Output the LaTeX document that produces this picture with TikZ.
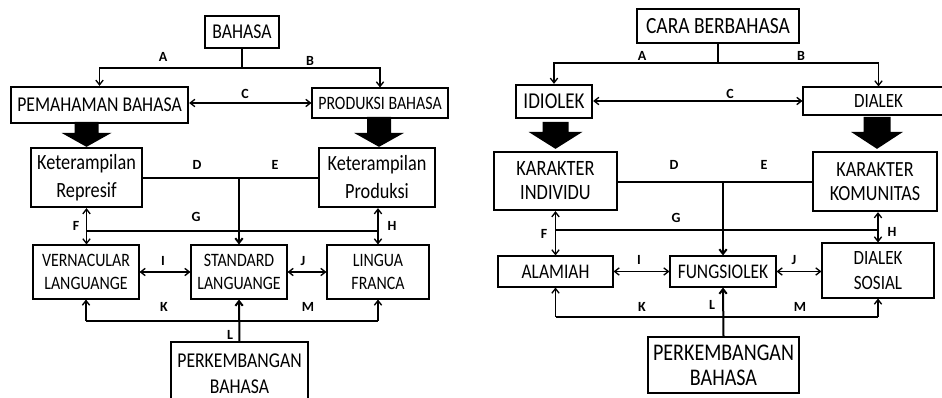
\documentclass[tikz,border=0pt]{standalone}
\usepackage{fontspec}
\setmainfont[FakeStretch=0.84]{Carlito}
\newfontfamily\tagfont{Carlito}
\usetikzlibrary{arrows.meta}
\newcommand\fsz[2]{\fontsize{#1}{#2}\selectfont}
\begin{document}
\begin{tikzpicture}[x=0.75pt,y=-0.75pt,
  box/.style={draw, line width=0.8pt, inner sep=0pt, align=center},
  heavy/.style={box, line width=1.7pt},
  lbl/.style={font=\tagfont\fsz{10.5pt}{11pt}\bfseries, inner sep=0pt},
  link/.style={line width=1pt},
  biglink/.style={line width=1.5pt},
  tip/.style={-{Straight Barb[length=3.5pt,width=5.5pt]}},
  tips/.style={{Straight Barb[length=3.5pt,width=5.5pt]}-{Straight Barb[length=3.5pt,width=5.5pt]}},
]
\useasboundingbox (0,0) rectangle (942,398);
\clip (0,0) rectangle (942,398);

% ---------------- left chart: BAHASA ----------------
\node[box, minimum width=55.5pt, minimum height=24pt, font=\fsz{15.8pt}{16pt}] (bahasa) at (242,32) {BAHASA};
\node[heavy, minimum width=132.75pt, minimum height=27pt, font=\fsz{15.8pt}{16pt}] (pemahaman) at (99.5,105) {PEMAHAMAN BAHASA};
\node[box, minimum width=102pt, minimum height=22.5pt, font=\fsz{14.2pt}{14pt}] (produksi) at (380,103) {PRODUKSI BAHASA};
\node[heavy, minimum width=83.25pt, minimum height=44.25pt, font=\fsz{16.3pt}{21pt}] (represif) at (86.5,177.5) {Keterampilan\\Represif};
\node[heavy, minimum width=87pt, minimum height=44.25pt, font=\fsz{16.3pt}{21pt}] (kprod) at (377,177.5) {Keterampilan\\Produksi};
\node[box, minimum width=79.5pt, minimum height=40.5pt, font=\fsz{14.2pt}{17.25pt}] (vern) at (86,272) {VERNACULAR\\LANGUANGE};
\node[box, minimum width=72pt, minimum height=40.5pt, font=\fsz{14.2pt}{17.25pt}] (stdl) at (239,272) {STANDARD\\LANGUANGE};
\node[box, minimum width=76.5pt, minimum height=40.5pt, font=\fsz{14.2pt}{17.25pt}] (lingua) at (378,272) {LINGUA\\FRANCA};
\node[box, minimum width=102.75pt, minimum height=47.25pt, font=\fsz{15.8pt}{19.5pt}] (perkl) at (239.5,373.5) {PERKEMBANGAN\\BAHASA};

% split from BAHASA
\coordinate (lab) at (242,68);
\draw[link] (bahasa.south) -- (lab);
\draw[link,tip] (lab) -| (pemahaman.north);
\draw[link,tip] (lab) -| (produksi.north);
\draw[link,tips] (pemahaman.east |- produksi.west) -- (produksi.west);

% block arrows
\fill (represif.north) -- ++(25,-14) -- ++(-13,0) -- ++(0,-11) -- ++(-24,0) -- ++(0,11) -- ++(-13,0) -- cycle;
\fill ([xshift=1.5pt]kprod.north) -- ++(25,-14) -- ++(-13,0) -- ++(0,-16) -- ++(-24,0) -- ++(0,16) -- ++(-13,0) -- cycle;

% D / E into STANDARD
\coordinate (lde) at (stdl.north |- 0,178);
\draw[link] (represif.east |- lde) -- (lde) -- (kprod.west |- lde);
\draw[biglink,tip] (lde) -- (stdl.north);

% F / G / H
\coordinate (lgl) at (86.5,231);
\coordinate (lgr) at (378,231);
\draw[link,tips] (represif.south) -- (represif.south |- vern.north);
\draw[link,tips] (lgr |- kprod.south) -- (lgr |- lingua.north);
\draw[link] (lgl) -- (lgr);

% I / J
\draw[link,tips] (vern.east) -- (stdl.west);
\draw[link,tips] (stdl.east) -- (lingua.west);

% K / L / M
\coordinate (lkl) at (86,321);
\coordinate (lkr) at (378,321);
\draw[link] (lkl) -- (lkr);
\draw[link,tip] (lkl) -- (vern.south);
\draw[link,tip] (lkr) -- (lingua.south);
\draw[biglink,tip] (perkl.north) -- (stdl.south);

\node[lbl] at (163,57) {A};
\node[lbl] at (310,61) {B};
\node[lbl] at (245,94) {C};
\node[lbl] at (197,165) {D};
\node[lbl] at (275,165) {E};
\node[lbl] at (76,226) {F};
\node[lbl] at (196,217) {G};
\node[lbl] at (392,226) {H};
\node[lbl] at (163,261) {I};
\node[lbl] at (303,261) {J};
\node[lbl] at (164,307) {K};
\node[lbl] at (230,335) {L};
\node[lbl] at (308,307) {M};

% ---------------- right chart: CARA BERBAHASA ----------------
\node[box, minimum width=121.5pt, minimum height=25.5pt, font=\fsz{17.4pt}{17pt}] (cara) at (718,26) {CARA BERBAHASA};
\node[heavy, minimum width=57pt, minimum height=24.75pt, font=\fsz{17pt}{17pt}] (idiolek) at (554,101.5) {IDIOLEK};
\node[box, minimum width=113.25pt, minimum height=21pt, font=\fsz{15.2pt}{15pt}] (dialek) at (878.5,101) {DIALEK};
\node[heavy, minimum width=92.25pt, minimum height=43.5pt, font=\fsz{16.4pt}{18pt}] (individu) at (555.5,181) {KARAKTER\\INDIVIDU};
\node[heavy, minimum width=93pt, minimum height=44.25pt, font=\fsz{16.2pt}{18pt}] (komunitas) at (875,181.5) {KARAKTER\\KOMUNITAS};
\node[box, minimum width=86.25pt, minimum height=23.25pt, font=\fsz{15.6pt}{15pt}] (alamiah) at (555.5,271.5) {ALAMIAH};
\node[box, minimum width=79.5pt, minimum height=23.25pt, font=\fsz{15.6pt}{15pt}] (fungsi) at (723,271.5) {FUNGSIOLEK};
\node[box, minimum width=84pt, minimum height=41.25pt, font=\fsz{15.2pt}{18.75pt}] (sosial) at (878,270.5) {DIALEK\\SOSIAL};
\node[box, minimum width=113.25pt, minimum height=42pt, font=\fsz{17.9pt}{18.75pt}] (perkr) at (723.5,365) {PERKEMBANGAN\\BAHASA};

% split from CARA BERBAHASA
\coordinate (rab) at (cara.south |- 0,63);
\draw[link] (cara.south) -- (rab);
\draw[link,tip] (rab) -| (idiolek.north);
\draw[link,tip] (rab) -| (dialek.north);
\draw[link,tips] (idiolek.east |- dialek.west) -- (dialek.west);

% block arrows
\fill ([yshift=1.5pt]individu.north) -- ++(27,-17) -- ++(-14,0) -- ++(0,-10) -- ++(-26,0) -- ++(0,10) -- ++(-14,0) -- cycle;
\fill ([xshift=1.5pt,yshift=1.5pt]komunitas.north) -- ++(26,-17) -- ++(-12.5,0) -- ++(0,-15) -- ++(-27,0) -- ++(0,15) -- ++(-12.5,0) -- cycle;

% D / E into FUNGSIOLEK
\coordinate (rde) at (fungsi.north |- 0,182);
\draw[link] (individu.east |- rde) -- (rde) -- (komunitas.west |- rde);
\draw[biglink,tip] (rde) -- (fungsi.north);

% F / G / H
\coordinate (rgl) at (alamiah.north |- 0,230);
\coordinate (rgr) at (sosial.north |- 0,230);
\draw[link,tips] (alamiah.north |- individu.south) -- (alamiah.north);
\draw[link,tips] (sosial.north |- komunitas.south) -- (sosial.north);
\draw[link] (rgl) -- (rgr);

% I / J
\draw[link,tips] (alamiah.east) -- (fungsi.west);
\draw[link,tips] (fungsi.east) -- (sosial.west |- fungsi.east);

% K / L / M
\coordinate (rkl) at (alamiah.south |- 0,317);
\coordinate (rkr) at (sosial.south |- 0,317);
\draw[link] (rkl) -- (rkr);
\draw[link,tip] (rkl) -- (alamiah.south);
\draw[link,tip] (rkr) -- (sosial.south);
\draw[biglink,tip] (perkr.north) -- (fungsi.south);

\node[lbl] at (642,56) {A};
\node[lbl] at (801,56) {B};
\node[lbl] at (730,94) {C};
\node[lbl] at (674,165) {D};
\node[lbl] at (764,165) {E};
\node[lbl] at (544,234) {F};
\node[lbl] at (676,218) {G};
\node[lbl] at (892,232) {H};
\node[lbl] at (639,260) {I};
\node[lbl] at (794,260) {J};
\node[lbl] at (642,307) {K};
\node[lbl] at (712,305) {L};
\node[lbl] at (800,307) {M};
\end{tikzpicture}
\end{document}
